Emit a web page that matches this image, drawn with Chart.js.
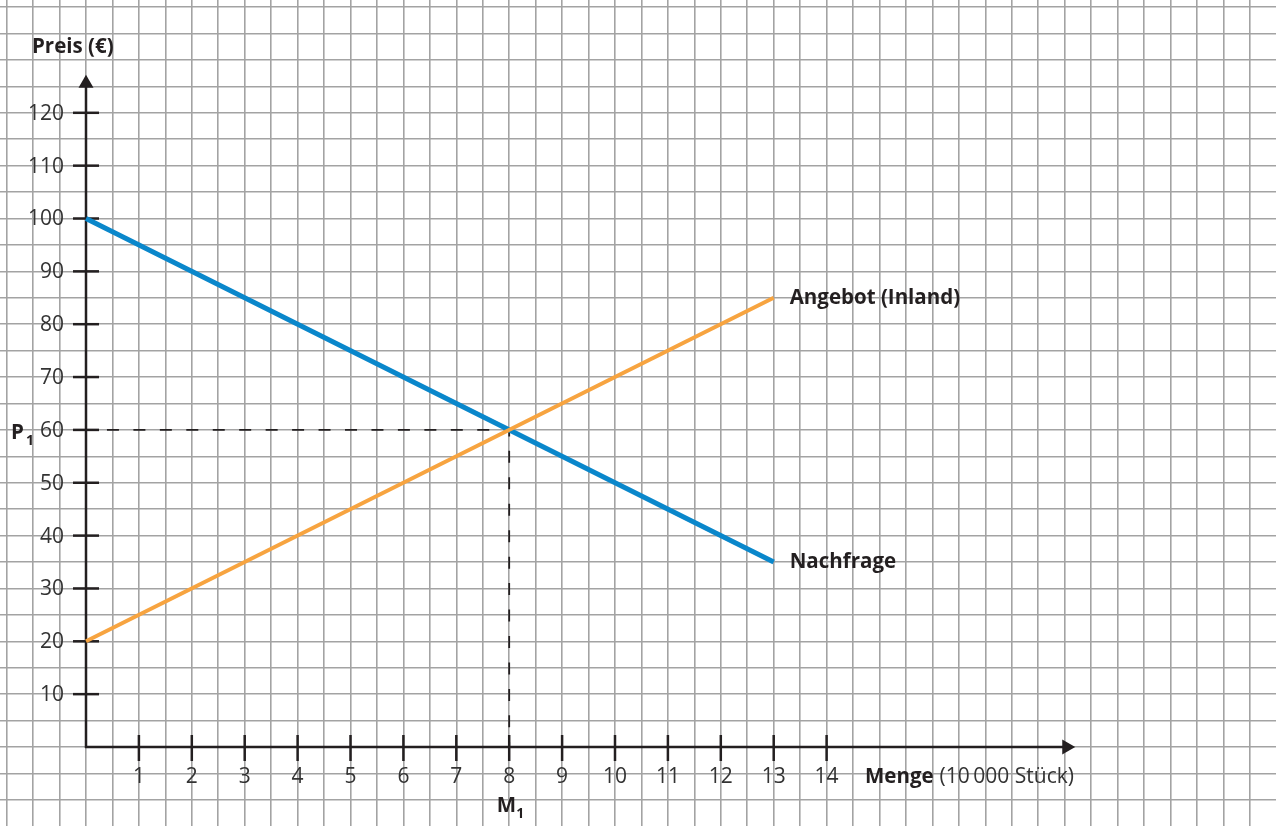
<!DOCTYPE html>
<html lang="de">
<head>
<meta charset="utf-8">
<script src="https://cdn.jsdelivr.net/npm/chart.js@4.4.1/dist/chart.umd.min.js"></script>
<style>
  html, body { margin: 0; padding: 0; background: #fff; }
  #wrap { width: 1276px; height: 826px; }
</style>
</head>
<body>
<div id="wrap"><canvas id="chart" width="1276" height="826"></canvas></div>
<script>
// Daten
const mengen = [0, 13];
const nachfrage = [100, 35];
const angebot = [20, 85];
const gleichgewicht = [{ x: 0, y: 60 }, { x: 8, y: 60 }, { x: 8, y: 0 }];

const xTicks = [1, 2, 3, 4, 5, 6, 7, 8, 9, 10, 11, 12, 13, 14];
const yTicks = [10, 20, 30, 40, 50, 60, 70, 80, 90, 100, 110, 120];

// Karopapier (halbe Einheiten)
const gridX = [];
for (let v = -1.5; v <= 22; v += 0.5) gridX.push(v);
const gridY = [];
for (let v = -10; v <= 140; v += 5) gridY.push(v);

const FONT = '"Open Sans", "Noto Sans", sans-serif';
const INK = "#231f20";

const toPoints = (xs, ys) => xs.map((x, i) => ({ x, y: ys[i] }));

// Achsen, Pfeile, Beschriftungen
const achsenPlugin = {
  id: "achsen",
  beforeDatasetsDraw(chart) {
    const { ctx, scales: { x, y } } = chart;
    const x0 = x.getPixelForValue(0);
    const y0 = y.getPixelForValue(0);
    const yTop = y.getPixelForValue(127.2);
    const xEnd = x.getPixelForValue(18.7);

    ctx.save();
    ctx.strokeStyle = INK;
    ctx.fillStyle = INK;
    ctx.lineWidth = 2.5;

    // y-Achse
    ctx.beginPath();
    ctx.moveTo(x0, y0 + 1);
    ctx.lineTo(x0, yTop + 10);
    ctx.stroke();
    ctx.beginPath();
    ctx.moveTo(x0, yTop);
    ctx.lineTo(x0 - 7.5, yTop + 13);
    ctx.lineTo(x0 + 7.5, yTop + 13);
    ctx.closePath();
    ctx.fill();

    // x-Achse
    ctx.beginPath();
    ctx.moveTo(x0 - 1, y0);
    ctx.lineTo(xEnd - 10, y0);
    ctx.stroke();
    ctx.beginPath();
    ctx.moveTo(xEnd, y0);
    ctx.lineTo(xEnd - 13, y0 - 7.5);
    ctx.lineTo(xEnd - 13, y0 + 7.5);
    ctx.closePath();
    ctx.fill();

    // Striche und Zahlen
    ctx.lineWidth = 2.5;
    ctx.font = "21px " + FONT;
    ctx.fillStyle = "#333";
    ctx.textAlign = "right";
    ctx.textBaseline = "middle";
    yTicks.forEach(v => {
      const py = y.getPixelForValue(v);
      ctx.beginPath();
      ctx.moveTo(x0 - 13, py);
      ctx.lineTo(x0 + 13, py);
      ctx.stroke();
      ctx.fillText(String(v), x0 - 22, py + 1);
    });
    ctx.textAlign = "center";
    xTicks.forEach(v => {
      const px = x.getPixelForValue(v);
      ctx.beginPath();
      ctx.moveTo(px, y0 - 12);
      ctx.lineTo(px, y0 + 14);
      ctx.stroke();
      ctx.fillText(String(v), px, y0 + 30);
    });

    // Achsentitel
    ctx.fillStyle = INK;
    ctx.textAlign = "left";
    ctx.font = "bold 20.5px " + FONT;
    ctx.fillText("Preis (€)", 32, 47);
    ctx.fillText("Menge", 865, y0 + 30);
    const mw = ctx.measureText("Menge").width;
    ctx.font = "21px " + FONT;
    ctx.fillStyle = "#333";
    ctx.fillText("(10\u2009000 Stück)", 865 + mw + 6, y0 + 30);

    // Kurvenbeschriftungen
    ctx.fillStyle = INK;
    ctx.font = "bold 20.5px " + FONT;
    ctx.fillText("Angebot (Inland)", x.getPixelForValue(13) + 16, y.getPixelForValue(85));
    ctx.fillText("Nachfrage", x.getPixelForValue(13) + 16, y.getPixelForValue(35));

    // P1 und M1
    ctx.fillText("P", 11, y.getPixelForValue(60) + 3);
    ctx.font = "bold 14px " + FONT;
    ctx.fillText("1", 26, y.getPixelForValue(60) + 11);
    ctx.font = "bold 20.5px " + FONT;
    ctx.textAlign = "right";
    ctx.fillText("M", x.getPixelForValue(8) + 7, y0 + 59);
    ctx.font = "bold 14px " + FONT;
    ctx.textAlign = "left";
    ctx.fillText("1", x.getPixelForValue(8) + 7, y0 + 67);
    ctx.restore();
  }
};

const gridScale = (min, max, values) => ({
  type: "linear",
  min, max,
  afterBuildTicks: s => { s.ticks = values.map(v => ({ value: v })); },
  ticks: { display: false },
  grid: { color: "#a3a3a3", lineWidth: 1.6, drawTicks: false },
  border: { display: false }
});

new Chart(document.getElementById("chart"), {
  type: "scatter",
  data: {
    datasets: [
      {
        label: "Angebot (Inland)",
        data: toPoints(mengen, angebot),
        showLine: true,
        borderColor: "#f7a440",
        borderWidth: 4,
        pointRadius: 0,
        order: 1
      },
      {
        label: "Nachfrage",
        data: toPoints(mengen, nachfrage),
        showLine: true,
        borderColor: "#0a87cb",
        borderWidth: 5,
        pointRadius: 0,
        order: 2
      },
      {
        label: "Gleichgewicht",
        data: gleichgewicht,
        showLine: true,
        borderColor: INK,
        borderWidth: 1.8,
        borderDash: [12, 14.45],
        borderDashOffset: 5.5,
        pointRadius: 0,
        order: 3
      }
    ]
  },
  options: {
    responsive: false,
    animation: false,
    layout: { padding: 0 },
    plugins: { legend: { display: false }, tooltip: { enabled: false } },
    scales: {
      x: gridScale(-86 / 52.9, (1276 - 86) / 52.9, gridX),
      y: gridScale(-(826 - 747) / 5.285, 747 / 5.285, gridY)
    }
  },
  plugins: [achsenPlugin]
});
</script>
</body>
</html>
